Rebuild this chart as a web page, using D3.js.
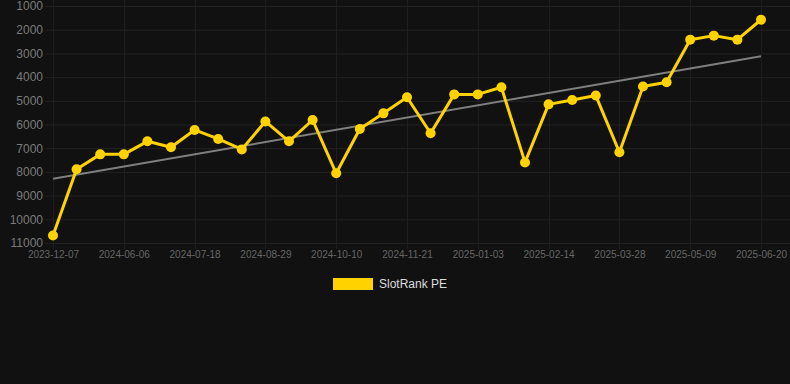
<!DOCTYPE html>
<html>
<head>
<meta charset="utf-8">
<script src="https://cdn.jsdelivr.net/npm/d3@7/dist/d3.min.js"></script>
<style>
  html, body { margin: 0; padding: 0; background: #111111; }
  svg { display: block; }
  text { font-family: "Liberation Sans", Arial, sans-serif; }
</style>
</head>
<body>
<svg id="chart" width="790" height="384"></svg>
<script>
const dates = [
  "2023-12-07","2024-05-09","2024-05-23","2024-06-06","2024-06-20","2024-07-04",
  "2024-07-18","2024-08-01","2024-08-15","2024-08-29","2024-09-12","2024-09-26",
  "2024-10-10","2024-10-24","2024-11-07","2024-11-21","2024-12-05","2024-12-19",
  "2025-01-03","2025-01-17","2025-01-31","2025-02-14","2025-02-28","2025-03-14",
  "2025-03-28","2025-04-11","2025-04-25","2025-05-09","2025-05-23","2025-06-06",
  "2025-06-20"
];
const rankValues = [
  10680, 7890, 7260, 7260, 6710, 6960, 6230, 6610, 7050, 5870, 6710, 5810,
  8060, 6190, 5530, 4850, 6370, 4730, 4730, 4430, 7600, 5150, 4970, 4780,
  7170, 4400, 4220, 2420, 2250, 2420, 1580
];
const yTicks = [1000,2000,3000,4000,5000,6000,7000,8000,9000,10000,11000];
const xTickLabels = ["2023-12-07","2024-06-06","2024-07-18","2024-08-29","2024-10-10",
  "2024-11-21","2025-01-03","2025-02-14","2025-03-28","2025-05-09","2025-06-20"];
const seriesName = "SlotRank PE";

const svg = d3.select("#chart");
const gridLeft = 45, gridRight = 790;

const x = d3.scalePoint().domain(dates).range([53, 761]);
const y = d3.scaleLinear().domain([1000, 11000]).range([6, 243]);

// horizontal grid
svg.append("g").selectAll("line").data(yTicks).join("line")
  .attr("x1", gridLeft).attr("x2", gridRight)
  .attr("y1", d => y(d) + 0.5).attr("y2", d => y(d) + 0.5)
  .attr("stroke", "#222222").attr("stroke-width", 1);

// vertical grid
svg.append("g").selectAll("line").data(xTickLabels).join("line")
  .attr("x1", d => Math.round(x(d)) + 0.5).attr("x2", d => Math.round(x(d)) + 0.5)
  .attr("y1", 0).attr("y2", y(11000) + 6)
  .attr("stroke", "#1e1e1e").attr("stroke-width", 1);

// y axis labels
const yAxis = d3.axisLeft(y).tickValues(yTicks).tickSize(0).tickPadding(0).tickFormat(d3.format("d"));
const gy = svg.append("g").attr("transform", "translate(43,0)").call(yAxis);
gy.select(".domain").remove();
gy.selectAll("text").attr("fill", "#7a7a7a").attr("font-size", 12)
  .style("font-family", '"Liberation Sans", Arial, sans-serif');

// x axis labels
const xAxis = d3.axisBottom(x).tickValues(xTickLabels).tickSize(0).tickPadding(0);
const gx = svg.append("g").attr("transform", "translate(0,251)").call(xAxis);
gx.select(".domain").remove();
gx.selectAll("text").attr("fill", "#666666").attr("font-size", 10).attr("dy", "0.71em")
  .style("font-family", '"Liberation Sans", Arial, sans-serif');

// trend line (least squares on index)
const n = rankValues.length;
const idx = d3.range(n);
const mx = d3.mean(idx), my = d3.mean(rankValues);
const slope = d3.sum(idx, i => (i - mx) * (rankValues[i] - my)) / d3.sum(idx, i => (i - mx) ** 2);
const icpt = my - slope * mx;
svg.append("line")
  .attr("x1", x(dates[0])).attr("y1", y(icpt))
  .attr("x2", x(dates[n - 1])).attr("y2", y(icpt + slope * (n - 1)))
  .attr("stroke", "#7f7f7f").attr("stroke-width", 2);

// series line
const line = d3.line().x((d, i) => x(dates[i])).y(d => y(d));
svg.append("path").datum(rankValues)
  .attr("d", line).attr("fill", "none")
  .attr("stroke", "#FFD200").attr("stroke-width", 3).attr("stroke-linejoin", "round");

svg.append("g").selectAll("circle").data(rankValues).join("circle")
  .attr("cx", (d, i) => x(dates[i])).attr("cy", d => y(d)).attr("r", 5)
  .attr("fill", "#FFD200");

// legend
const lg = svg.append("g");
lg.append("rect").attr("x", 333).attr("y", 278).attr("width", 40).attr("height", 12).attr("fill", "#FFD200");
lg.append("text").attr("x", 379).attr("y", 284).attr("dy", "0.35em")
  .attr("fill", "#dddddd").attr("font-size", 12).text(seriesName);
</script>
</body>
</html>
